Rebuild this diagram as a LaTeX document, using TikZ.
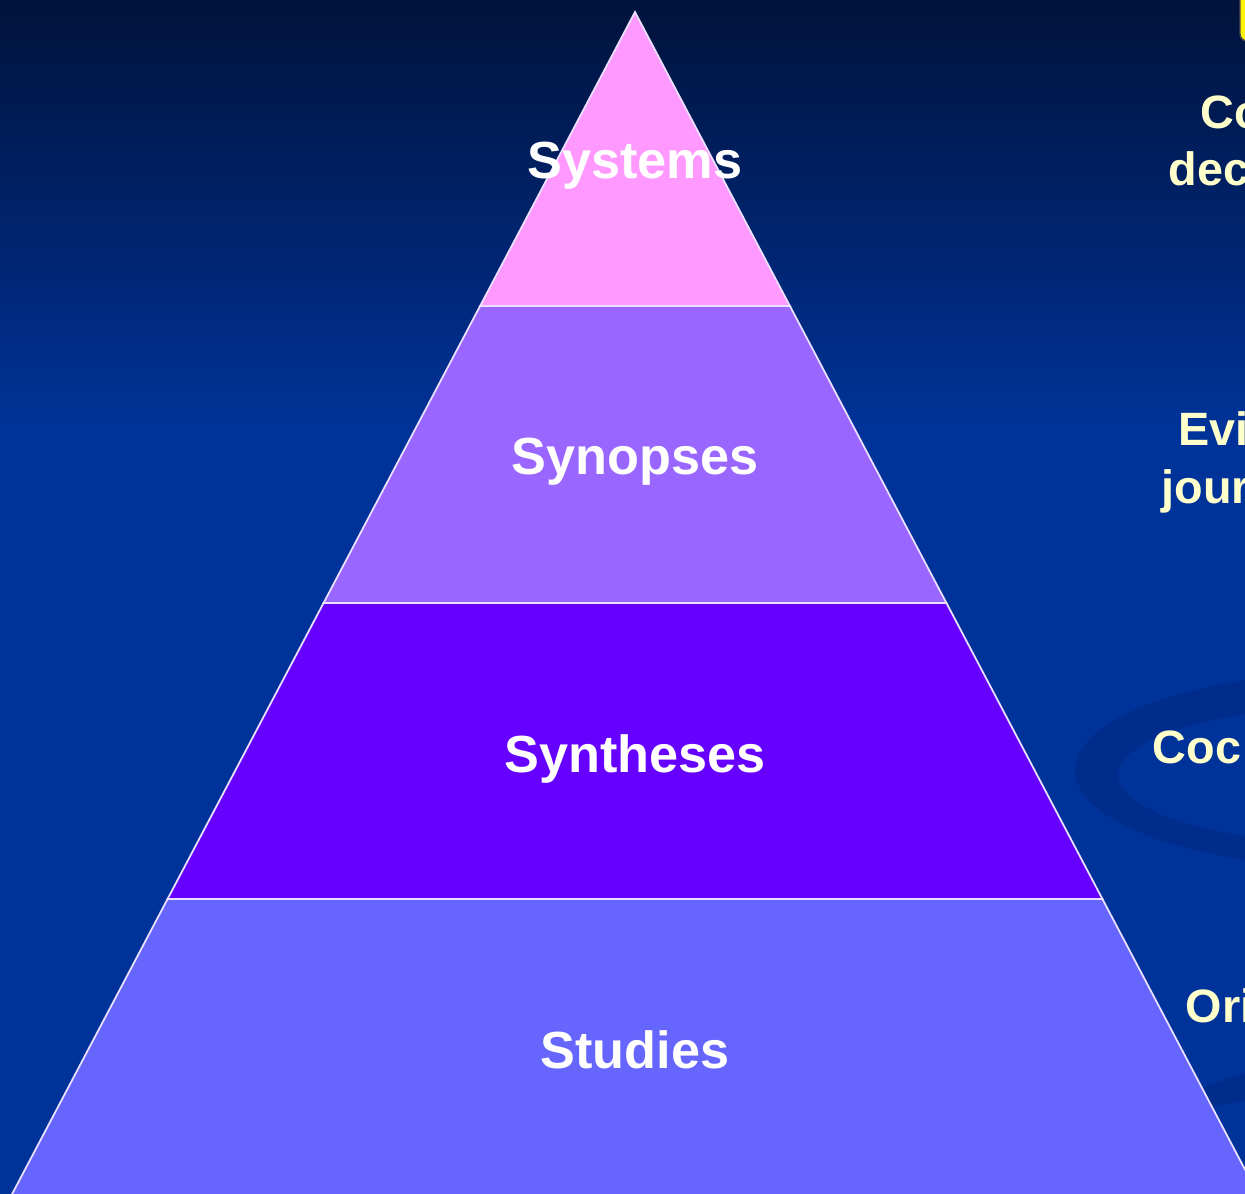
\documentclass[tikz,border=0pt]{standalone}
\usepackage{fontspec}
\setmainfont{Liberation Sans}
\usetikzlibrary{positioning,calc}
\definecolor{navytop}{RGB}{0,18,58}
\definecolor{slideblue}{RGB}{0,51,153}
\definecolor{swirlblue}{RGB}{0,45,140}
\definecolor{tierpink}{RGB}{255,153,255}
\definecolor{tierlilac}{RGB}{153,102,255}
\definecolor{tierviolet}{RGB}{102,0,255}
\definecolor{tierperi}{RGB}{102,102,255}
\definecolor{notecream}{RGB}{255,255,204}

\begin{document}
\begin{tikzpicture}[x=0.01cm,y=-0.01cm,
    tier/.style={draw=white!80!tierlilac,line width=0.5pt,line join=miter},
    tierlabel/.style={text=white,font=\fontsize{14.85}{18}\selectfont\bfseries,anchor=base,inner sep=0pt},
    sidenote/.style={text=notecream,font=\fontsize{13.3}{16}\selectfont\bfseries,anchor=base west,inner sep=0pt}]
      % Background
      \useasboundingbox (0,0) rectangle (1245,1193);
      \clip (0,0) rectangle (1245,1193);
      \shade[top color=navytop,bottom color=slideblue] (-5,-5) rectangle (1250,432);
      \fill[slideblue] (-5,430) rectangle (1250,1198);
      
      % Swirl behind the notes
      \fill[swirlblue,even odd rule] (1350,770) ellipse [x radius=275,y radius=97]
        (1370,775) ellipse [x radius=252,y radius=70];
      \fill[swirlblue] (1150,1112) .. controls (1190,1092) and (1220,1080) .. (1255,1070)
        -- (1255,1100) .. controls (1220,1104) and (1190,1110) .. (1150,1122) -- cycle;
      
      % Corner tab
      \fill[yellow,draw=black!70,rounded corners=2pt] (1240,-10) rectangle (1262,41);
      
      % Pyramid tiers
      \foreach \top/\bot/\col in {12/306/tierpink,306/603/tierlilac,603/899/tierviolet,899/1205/tierperi} {
        \draw[tier,fill=\col] ({635-0.527*(\top-12)},\top) -- ({635+0.527*(\top-12)},\top)
          -- ({635+0.527*(\bot-12)},\bot) -- ({635-0.527*(\bot-12)},\bot) -- cycle;
      }
      
      % Tier labels
      \node[tierlabel] (systems) at (635,178) {Systems};
      \node[tierlabel] (synopses) at (635,474) {Synopses};
      \node[tierlabel] (syntheses) at (635,772) {Syntheses};
      \node[tierlabel] (studies) at (635,1068) {Studies};
      
      % Notes on the right
      \node[sidenote] (cdsa) at (1200,128) {Co};
      \node[sidenote] (cdsb) at (1168,185) {dec};
      \node[sidenote] (ebja) at (1178,445) {Evi};
      \node[sidenote] (ebjb) at (1161,503) {jour};
      \node[sidenote] (cochr) at (1152,763) {Coc};
      \node[sidenote] (origa) at (1185,1022) {Ori};
    \end{tikzpicture}
\end{document}
